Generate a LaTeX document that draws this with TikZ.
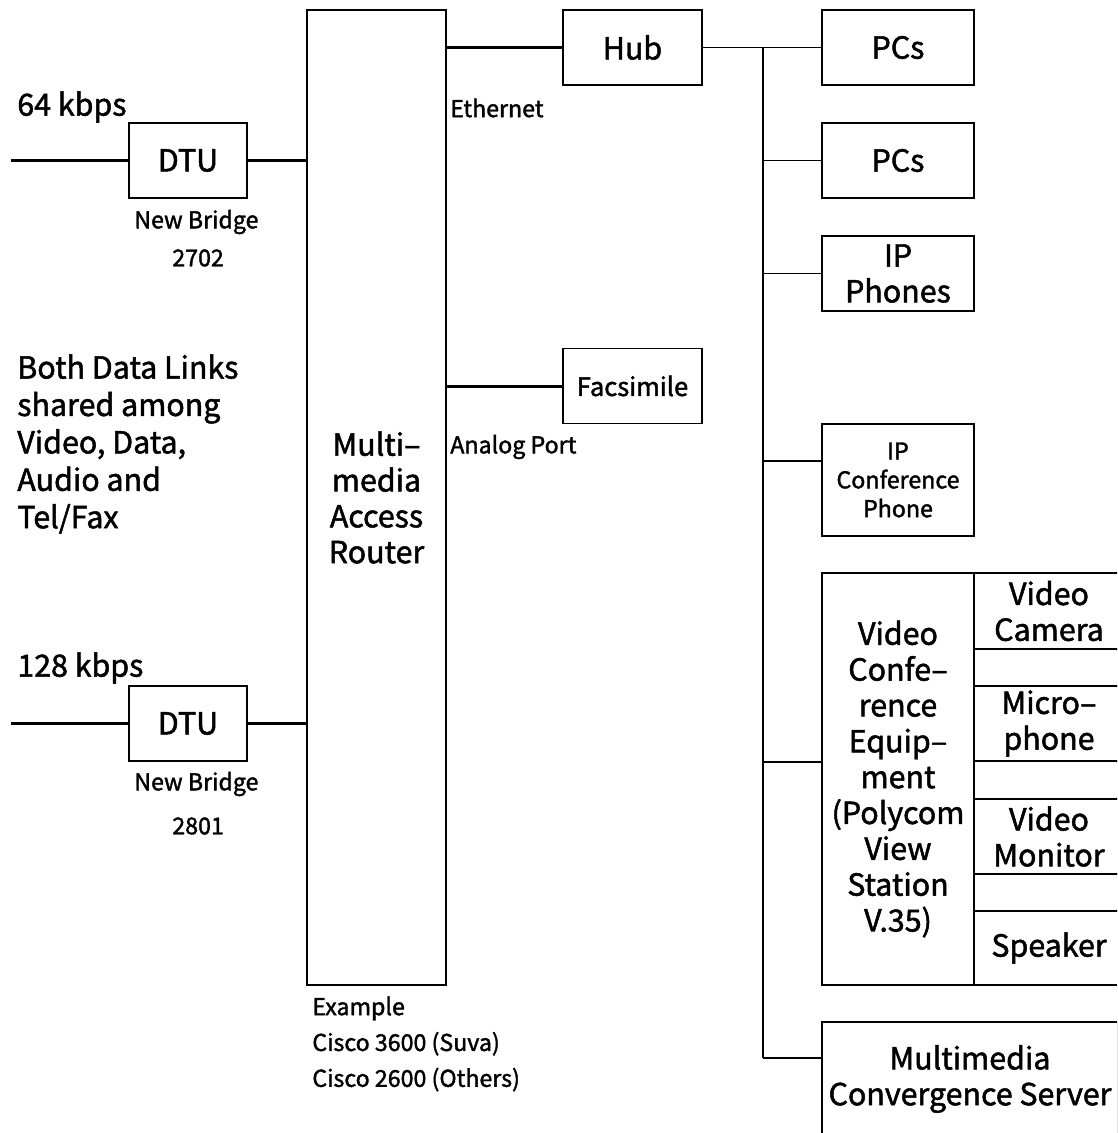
\documentclass[tikz,border=0pt]{standalone}
\usepackage{fontspec}
\setmainfont{Noto Sans CJK JP}[RawFeature={embolden=1.6}]
\usetikzlibrary{positioning}

\tikzset{
  box/.style={draw, line width=0.85pt, inner sep=0pt, align=center},
  bigtxt/.style={font=\fontsize{17.3}{20.4}\selectfont},
  smalltxt/.style={font=\fontsize{13.2}{20.4}\selectfont},
  thickline/.style={line width=1.7pt},
  thinline/.style={line width=0.85pt}
}

\begin{document}
\begin{tikzpicture}[x=0.02cm, y=-0.02cm]
    \useasboundingbox (0,0) rectangle (1117,1133);
    \clip (0,0) rectangle (1117,1133);

    % Router and the two data links
    \node[box, bigtxt, minimum width=2.78cm, minimum height=19.5cm] (router) at (376.5,497.5)
        {Multi--\\media\\Access\\Router};
    \node[box, bigtxt, minimum width=2.36cm, minimum height=1.5cm] (dtua) at (188,160.5) {DTU};
    \node[box, bigtxt, minimum width=2.36cm, minimum height=1.5cm] (dtub) at (188,723.5) {DTU};
    \coordinate (ina) at (11,160.5);
    \coordinate (inb) at (11,723.5);

    \draw[thickline] (ina) -- (dtua.west);
    \draw[thickline] (dtua.east) -- (dtua.east -| router.west);
    \draw[thickline] (inb) -- (dtub.west);
    \draw[thickline] (dtub.east) -- (dtub.east -| router.west);

    % Labels of the links
    \node[bigtxt, anchor=west, inner sep=0pt] (ratea) at (17,107) {64 kbps};
    \node[bigtxt, anchor=west, inner sep=0pt] (rateb) at (17,668) {128 kbps};
    \node[smalltxt, anchor=west, inner sep=0pt] (nba) at (134,222) {New Bridge};
    \node[smalltxt, anchor=west, inner sep=0pt] (nbanum) at (172,258) {2702};
    \node[smalltxt, anchor=west, inner sep=0pt] (nbb) at (134,784) {New Bridge};
    \node[smalltxt, anchor=west, inner sep=0pt] (nbbnum) at (172,826) {2801};
    \node[font=\fontsize{17.3}{21.3}\selectfont, anchor=west, align=left, inner sep=0pt] (shared) at (17,444)
        {Both Data Links\\shared among\\Video, Data,\\Audio and\\Tel/Fax};
    \node[smalltxt, anchor=west, align=left, inner sep=0pt] (example) at (312,1044)
        {Example\\Cisco 3600 (Suva)\\Cisco 2600 (Others)};

    % Hub and facsimile
    \node[box, bigtxt, minimum width=2.78cm, minimum height=1.5cm] (hub) at (632.5,47.5) {Hub};
    \node[box, font=\fontsize{14.5}{17}\selectfont, minimum width=2.78cm, minimum height=1.5cm] (fax) at (632.5,386) {Facsimile};
    \draw[thickline] (router.east |- hub.west) -- (hub.west);
    \draw[thickline] (router.east |- fax.west) -- (fax.west);
    \node[smalltxt, anchor=west, inner sep=0pt] (ether) at (450,108) {Ethernet};
    \node[smalltxt, anchor=west, inner sep=0pt] (analog) at (450,447) {Analog Port};

    % Terminals on the LAN
    \node[box, bigtxt, minimum width=3.04cm, minimum height=1.5cm] (pca) at (898,47.5) {PCs};
    \node[box, bigtxt, minimum width=3.04cm, minimum height=1.5cm] (pcb) at (898,160.5) {PCs};
    \node[box, bigtxt, minimum width=3.04cm, minimum height=1.5cm] (ipph) at (898,273.5) {IP\\Phones};
    \node[box, font=\fontsize{13.2}{16.4}\selectfont, minimum width=3.04cm, minimum height=2.24cm] (ipconf) at (898,480) {IP\\Conference\\Phone};
    \node[box, bigtxt, minimum width=3.04cm, minimum height=8.24cm] (vce) at (898,779)
        {Video\\Confe--\\rence\\Equip--\\ment\\(Polycom\\View\\Station\\V.35)};
    \node[box, bigtxt, minimum width=5.92cm, minimum height=2.28cm] (mcs) at (970,1079)
        {Multimedia\\Convergence Server};

    % Units of the video conference equipment
    \node[box, bigtxt, minimum width=3.0cm, minimum height=1.52cm] (cam) at (1049,611) {Video\\Camera};
    \node[box, minimum width=3.0cm, minimum height=0.74cm] (gapa) at (1049,667.5) {};
    \node[box, bigtxt, minimum width=3.0cm, minimum height=1.5cm] (mic) at (1049,723.5) {Micro--\\phone};
    \node[box, minimum width=3.0cm, minimum height=0.76cm] (gapb) at (1049,780) {};
    \node[box, bigtxt, minimum width=3.0cm, minimum height=1.5cm] (mon) at (1049,836.5) {Video\\Monitor};
    \node[box, minimum width=3.0cm, minimum height=0.74cm] (gapc) at (1049,892.5) {};
    \node[box, bigtxt, minimum width=3.0cm, minimum height=1.48cm] (spk) at (1049,948) {Speaker};

    % LAN bus
    \coordinate (bustop) at (763,47.5);
    \coordinate (tapconf) at (763,461);
    \coordinate (tapvce) at (763,762);
    \coordinate (busbot) at (763,1058);
    \draw[thinline] (hub.east) -- (pca.west);
    \draw[thinline] (bustop) -- (busbot);
    \draw[thinline] (bustop |- pcb.west) -- (pcb.west);
    \draw[thinline] (bustop |- ipph.west) -- (ipph.west);
    \draw[thinline] (tapconf) -- (tapconf -| ipconf.west);
    \draw[thinline] (tapvce) -- (tapvce -| vce.west);
    \draw[thinline] (busbot) -- (busbot -| mcs.west);
\end{tikzpicture}
\end{document}
